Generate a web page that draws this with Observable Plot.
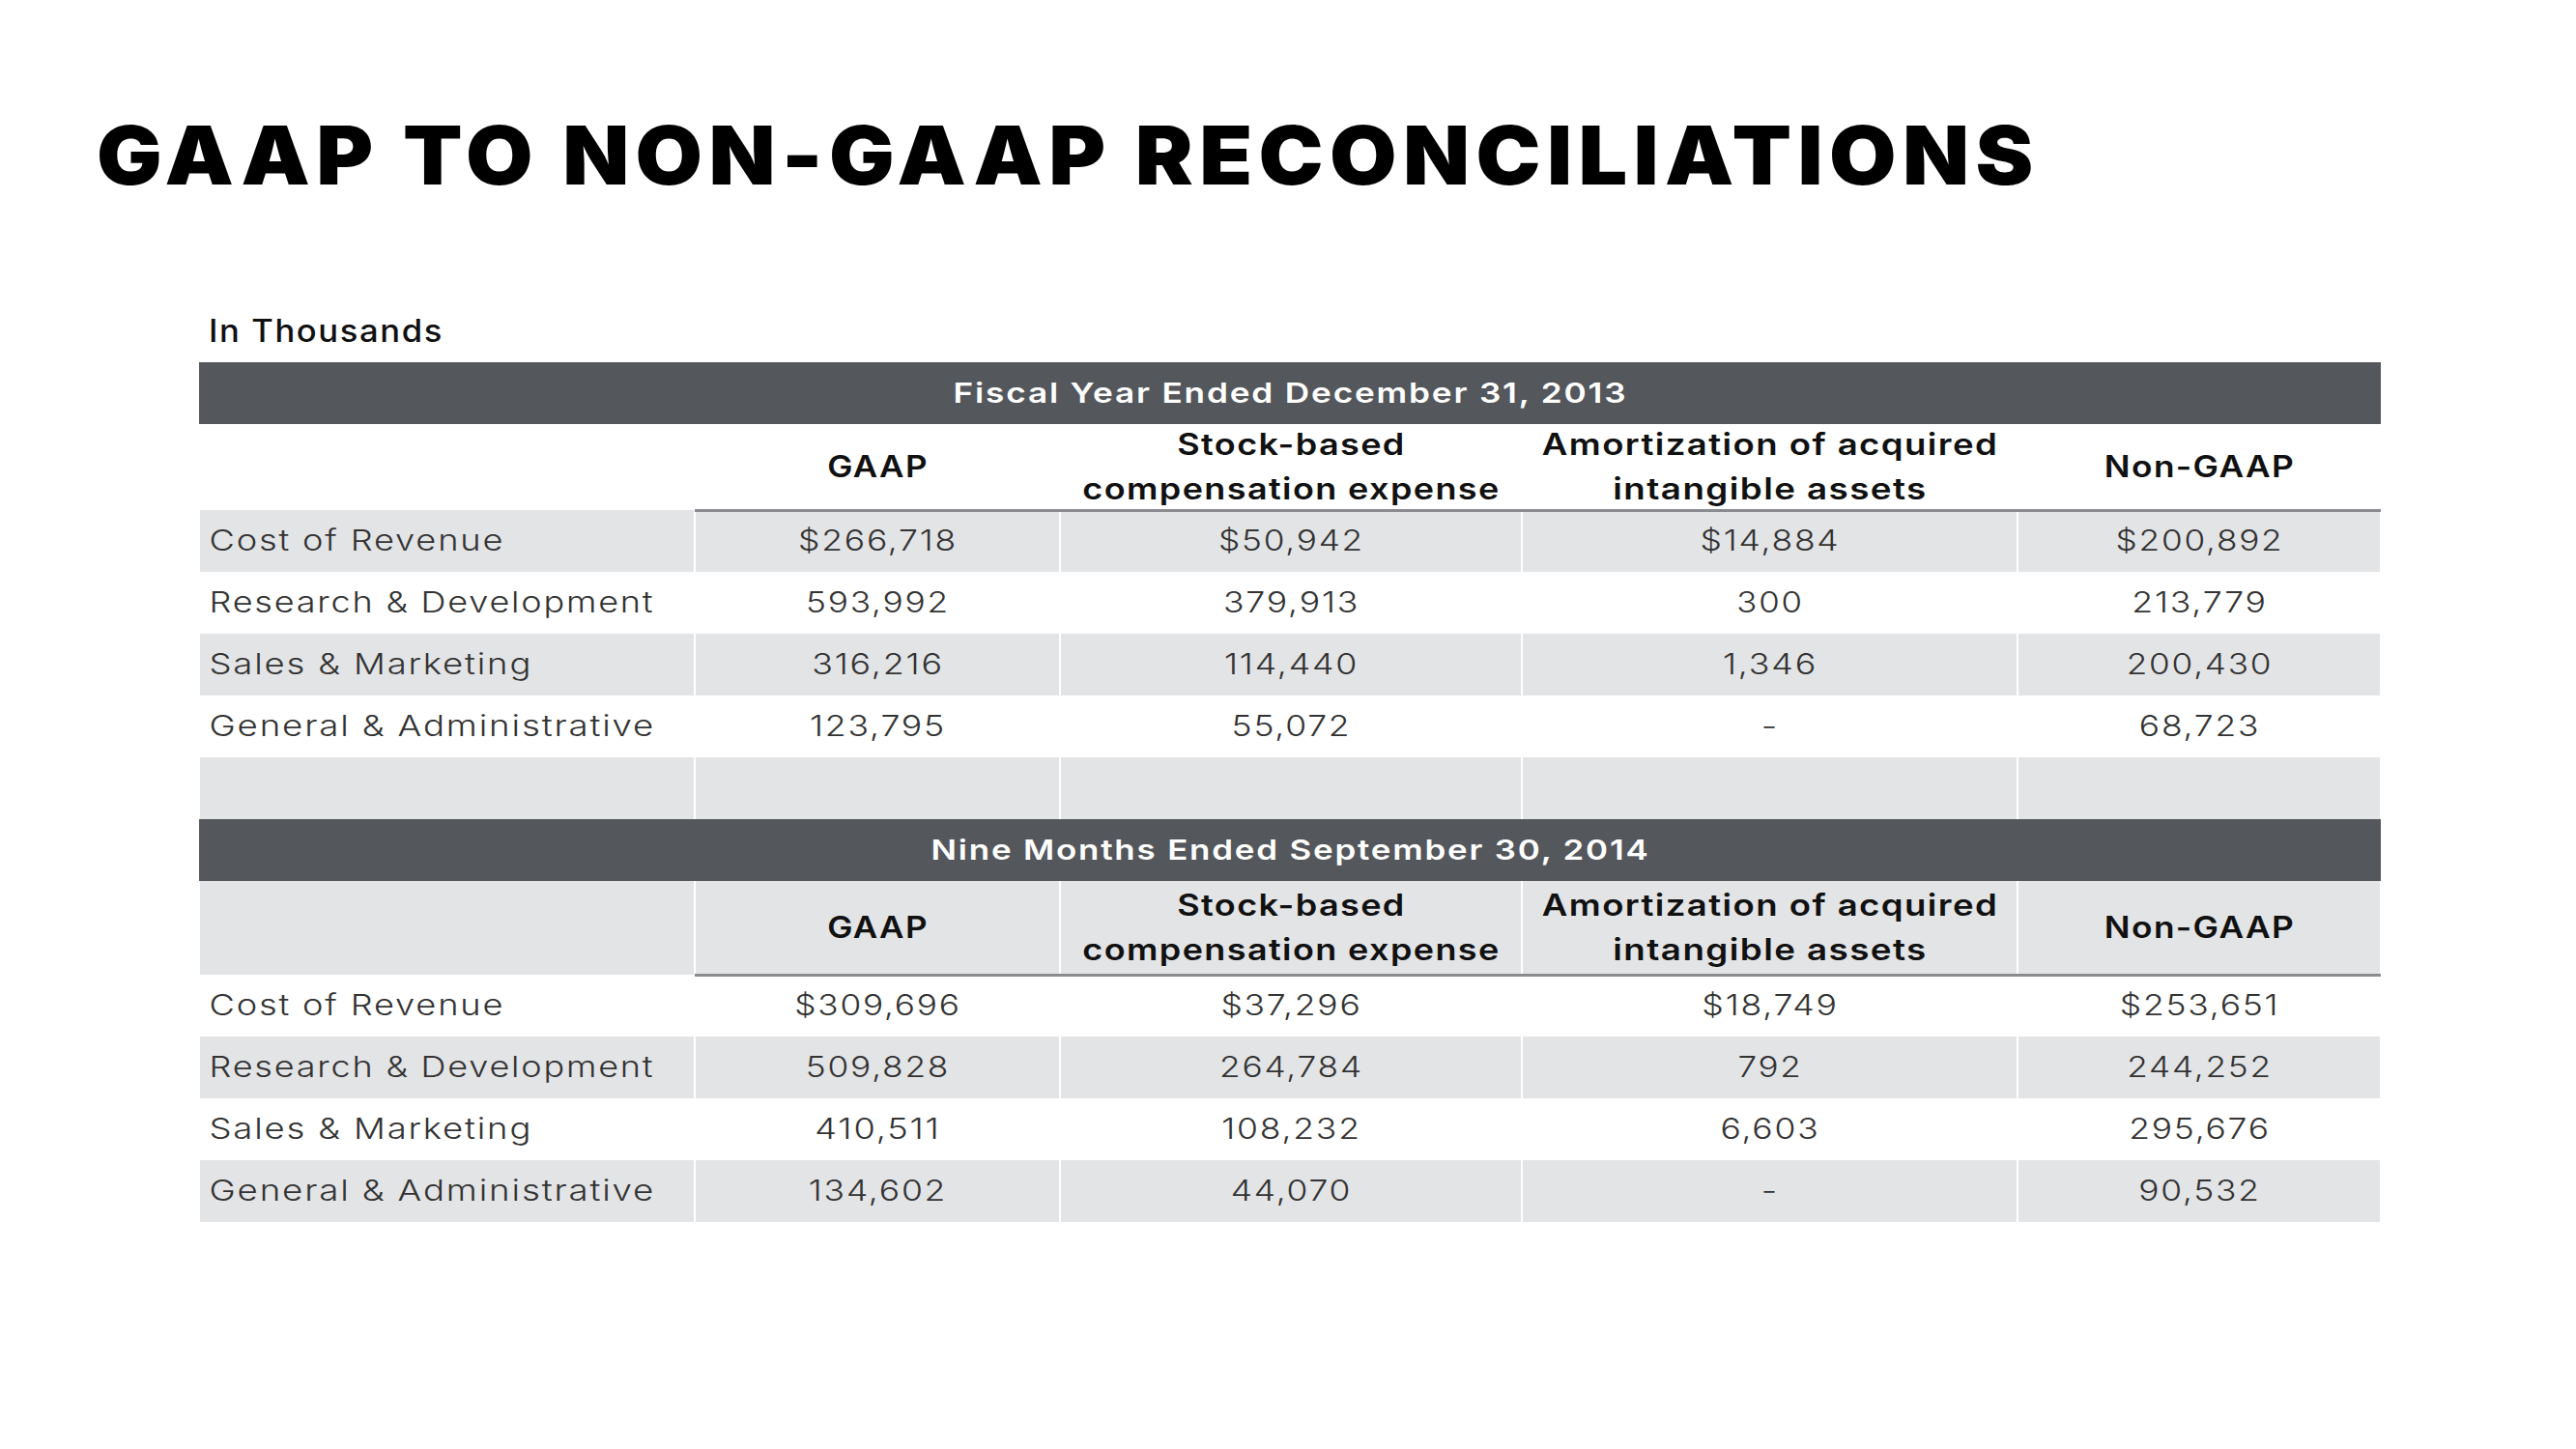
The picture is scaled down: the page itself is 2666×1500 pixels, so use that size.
<!DOCTYPE html>
<html>
<head>
<meta charset="utf-8">
<script src="https://cdn.jsdelivr.net/npm/d3@7"></script>
<script src="https://cdn.jsdelivr.net/npm/@observablehq/plot@0.6"></script>
<style>
  html, body { margin: 0; padding: 0; background: #fff; }
  body { width: 2666px; height: 1500px; overflow: hidden; font-family: Inter, "Noto Sans", sans-serif; }
  #head { position: relative; height: 370px; }
  #title { position: absolute; left: 100px; top: 119px; margin: 0; font-size: 84px; line-height: 1; font-weight: 900; letter-spacing: 6px; color: #000; white-space: nowrap; transform: scaleX(1.068); transform-origin: 0 50%; }
  #sub { position: absolute; left: 216px; top: 327px; margin: 0; font-size: 32px; line-height: 1; font-weight: 500; color: #111; letter-spacing: 1.5px; transform: scaleX(1.08); transform-origin: 0 50%; }
</style>
</head>
<body>
<div id="head">
  <h1 id="title">GAAP TO NON-GAAP RECONCILIATIONS</h1>
  <div id="sub">In Thousands</div>
</div>
<div id="chart"></div>
<script>
// ---------- data ----------
const periods = ["Fiscal Year Ended December 31, 2013", "Nine Months Ended September 30, 2014"];
const columnHeaders = ["GAAP", "Stock-based\ncompensation expense", "Amortization of acquired\nintangible assets", "Non-GAAP"];
const lineItems = ["Cost of Revenue", "Research & Development", "Sales & Marketing", "General & Administrative"];

const gaap2013 = [266718, 593992, 316216, 123795];
const stockComp2013 = [50942, 379913, 114440, 55072];
const amort2013 = [14884, 300, 1346, null];
const nonGaap2013 = [200892, 213779, 200430, 68723];

const gaap2014 = [309696, 509828, 410511, 134602];
const stockComp2014 = [37296, 264784, 108232, 44070];
const amort2014 = [18749, 792, 6603, null];
const nonGaap2014 = [253651, 244252, 295676, 90532];

const sectionValues = [
  [gaap2013, stockComp2013, amort2013, nonGaap2013],
  [gaap2014, stockComp2014, amort2014, nonGaap2014]
];

// ---------- layout (table geometry in px units) ----------
const colWidths = [513, 378, 478, 513, 376];
const edges = Array.from(d3.cumsum([0, ...colWidths]));
const tableWidth = edges[edges.length - 1];
const barH = 64, rowH = 64, headerH = [89, 97];

const rows = [];
let yy = 0;
function push(kind, h, extra) { rows.push({kind, y0: yy, y1: yy + h, ...extra}); yy += h; }
periods.forEach((p, s) => {
  push("bar", barH, {section: s});
  push("header", headerH[s], {section: s, gray: s === 1});
  lineItems.forEach((item, i) => push("data", rowH, {section: s, row: i, gray: s === 0 ? i % 2 === 0 : i % 2 === 1}));
  if (s === 0) push("spacer", rowH, {gray: true});
});
const tableHeight = yy;

const grayCells = rows.filter(r => r.gray).flatMap(r => d3.range(colWidths.length).map(c => ({...r, c})));
const bars = rows.filter(r => r.kind === "bar");
const headers = rows.filter(r => r.kind === "header");
const headerCells = headers.flatMap(r => columnHeaders.map((h, c) => ({...r, c: c + 1, text: h})));
const dataRows = rows.filter(r => r.kind === "data");
const fmt = d3.format(",");
const valueCells = dataRows.flatMap(r => sectionValues[r.section].map((series, c) => {
  const v = series[r.row];
  return {...r, c: c + 1, text: v == null ? "-" : (r.row === 0 ? "$" : "") + fmt(v)};
}));

const mid = d => (d.y0 + d.y1) / 2;
const colMid = d => (edges[d.c] + edges[d.c + 1]) / 2;

// typographic widening per text mark (order of text marks): extra px per character, and tracking kept
const widen = [5, 4.2, 5, 4.7];
const tracking = [1.5, 1.2, 1.5, 1.5];

const tableTop = 5, tableLeft = 206, svgH = 1130;
const chart = Plot.plot({
  width: 2666,
  height: svgH,
  marginTop: tableTop,
  marginLeft: tableLeft,
  marginRight: 2666 - tableLeft - tableWidth,
  marginBottom: svgH - tableTop - tableHeight,
  x: {type: "linear", domain: [0, tableWidth], axis: null},
  y: {type: "linear", domain: [0, tableHeight], reverse: true, axis: null},
  style: {fontFamily: "Inter, 'Noto Sans', sans-serif", background: "white"},
  marks: [
    Plot.rect(grayCells, {x1: d => edges[d.c], x2: d => edges[d.c + 1], y1: d => d.y0, y2: d => d.y1, fill: "#e3e4e6", insetLeft: 1, insetRight: 1}),
    Plot.rect(bars, {x1: () => 0, x2: () => tableWidth, y1: d => d.y0, y2: d => d.y1, fill: "#54575c"}),
    Plot.ruleY(headers, {y: d => d.y1, x1: () => edges[1], x2: () => tableWidth, stroke: "#8b8c8f", strokeWidth: 3}),
    Plot.text(bars, {x: () => tableWidth / 2, y: mid, text: d => periods[d.section], fill: "#ffffff", fontSize: 29, fontWeight: 600, lineAnchor: "middle"}),
    Plot.text(headerCells, {x: colMid, y: mid, text: "text", fill: "#111", fontSize: 31, fontWeight: 600, lineAnchor: "middle", lineHeight: 1.48}),
    Plot.text(dataRows, {x: () => 0, dx: 10, y: mid, text: d => lineItems[d.row], fill: "#333", fontSize: 30, fontWeight: 300, textAnchor: "start", lineAnchor: "middle"}),
    Plot.text(valueCells, {x: colMid, y: mid, text: "text", fill: "#333", fontSize: 30, fontWeight: 300, lineAnchor: "middle"})
  ]
});
document.getElementById("chart").appendChild(chart);

// widen the glyphs (the reference face is a wide geometric sans)
const textGroups = chart.querySelectorAll('g[aria-label="text"]');
textGroups.forEach((g, i) => {
  const pieces = [];
  g.querySelectorAll("text").forEach(t => {
    const spans = t.querySelectorAll("tspan");
    if (spans.length) spans.forEach(s => pieces.push(s)); else pieces.push(t);
  });
  const targets = pieces.map(el => el.getComputedTextLength() + el.textContent.length * widen[i]);
  g.style.letterSpacing = tracking[i] + "px";
  pieces.forEach((el, k) => {
    el.setAttribute("textLength", targets[k].toFixed(1));
    el.setAttribute("lengthAdjust", "spacingAndGlyphs");
  });
});
// nudge the column-header block slightly upward, as in the reference
if (textGroups[1]) textGroups[1].setAttribute("transform", (textGroups[1].getAttribute("transform") || "") + " translate(0,-5)");
</script>
</body>
</html>
